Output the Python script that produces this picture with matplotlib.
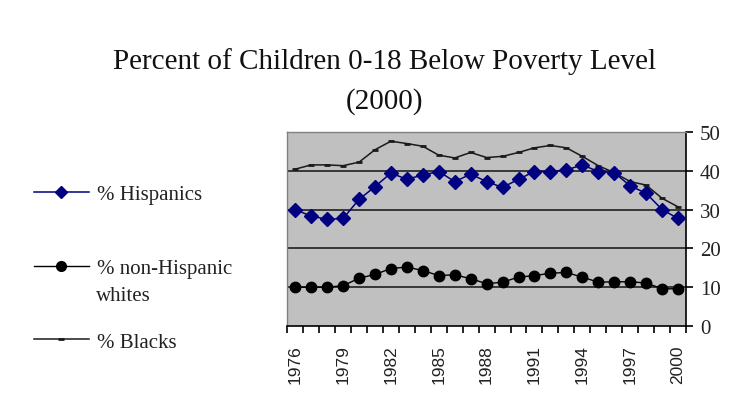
import numpy as np
import matplotlib
matplotlib.use("Agg")
import matplotlib.pyplot as plt
from matplotlib.lines import Line2D

# data
years = list(range(1976, 2001))
hispanics = [30.0, 28.3, 27.5, 27.7, 32.6, 35.9, 39.4, 37.8, 38.9, 39.8,
             37.2, 39.1, 37.2, 35.7, 37.8, 39.8, 39.8, 40.2, 41.5, 39.8,
             39.5, 36.1, 34.2, 30.0, 27.7]
whites = [10.0, 10.0, 10.0, 10.4, 12.3, 13.3, 14.8, 15.2, 14.3, 13.0,
          13.2, 12.2, 10.9, 11.3, 12.6, 13.0, 13.6, 13.8, 12.6, 11.3,
          11.4, 11.4, 11.1, 9.6, 9.6]
blacks = [40.4, 41.5, 41.5, 41.3, 42.2, 45.4, 47.6, 47.0, 46.3, 44.0,
          43.3, 44.7, 43.4, 43.7, 44.7, 45.9, 46.5, 45.9, 43.7, 41.3,
          39.5, 37.2, 36.3, 32.9, 30.7]
series_labels = ["% Hispanics", "% non-Hispanic", "% Blacks"]
title_lines = ["Percent of Children 0-18 Below Poverty Level", "(2000)"]

serif = "Liberation Serif"
sans = "Liberation Sans"

fig = plt.figure(figsize=(7.46, 4.14), dpi=100)
ax = fig.add_axes([0.385, 0.21, 0.5346, 0.469])
ax.set_facecolor("#c0c0c0")

x = np.arange(len(years))
l_bl, = ax.plot(x, blacks, color="#1a1a1a", lw=1.1, marker="_", ms=5,
                mew=2, zorder=3)
l_hi, = ax.plot(x, hispanics, color="#000080", lw=1.1, marker="D", ms=7,
                zorder=4)
l_wh, = ax.plot(x, whites, color="black", lw=1.0, marker="o", ms=7.5,
                zorder=4)

ax.set_xlim(-0.5, len(years) - 0.5)
ax.set_ylim(0, 50)

# gridlines at inner values only
ax.set_yticks(range(0, 51, 10))
for v in range(10, 50, 10):
    ax.axhline(v, color="#202020", lw=1.2, zorder=2)

ax.yaxis.tick_right()
ax.tick_params(axis="y", direction="out", length=5, width=1.2, pad=5,
               labelsize=15, labelcolor="#222222")
for lbl in ax.get_yticklabels():
    lbl.set_family(serif)

# category boundary ticks + year labels every 3 years
ax.set_xticks(x[::3])
ax.set_xticklabels([str(y) for y in years[::3]], rotation=90,
                   family=sans, fontsize=12.5, color="#222222")
ax.set_xticks(np.arange(-0.5, len(years), 1), minor=True)
ax.tick_params(axis="x", which="major", length=0, pad=13)
ax.tick_params(axis="x", which="minor", direction="out", length=5, width=1.2)

for side in ["left", "top"]:
    ax.spines[side].set_color("#808080")
    ax.spines[side].set_linewidth(1.0)
for side in ["right", "bottom"]:
    ax.spines[side].set_color("black")
    ax.spines[side].set_linewidth(1.2)

# title
fig.text(0.516, 0.851, title_lines[0], ha="center", va="center",
         family=serif, fontsize=21, color="#111111")
fig.text(0.516, 0.754, title_lines[1], ha="center", va="center",
         family=serif, fontsize=21, color="#111111")

# legend on the left, handles aligned with first text line
h_hi = Line2D([], [], color="#000080", lw=1.1, marker="D", ms=6)
h_wh = Line2D([], [], color="black", lw=1.0, marker="o", ms=7)
h_bl = Line2D([], [], color="#1a1a1a", lw=1.1, marker="_", ms=5, mew=2)
leg = fig.legend([h_hi, h_wh, h_bl], series_labels, loc="upper left",
                 bbox_to_anchor=(0.02, 0.597), frameon=False,
                 handlelength=2.65, handletextpad=0.4, labelspacing=2.6,
                 prop={"family": serif, "size": 15})
for t in leg.get_texts():
    t.set_color("#222222")
fig.text(0.129, 0.283, "whites", ha="left", va="center", family=serif,
         fontsize=15, color="#222222")

fig.savefig("out.png", dpi=100)
